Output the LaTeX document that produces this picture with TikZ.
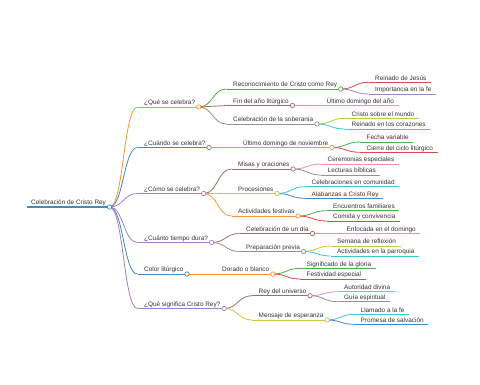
\documentclass[tikz,border=0pt]{standalone}
\usepackage{fontspec}
\setmainfont{Liberation Sans}
\usetikzlibrary{calc}
\definecolor{cA}{HTML}{1F77B4}
\definecolor{cB}{HTML}{FF7F0E}
\definecolor{cC}{HTML}{2CA02C}
\definecolor{cD}{HTML}{D62728}
\definecolor{cE}{HTML}{9467BD}
\definecolor{cF}{HTML}{8C564B}
\definecolor{cG}{HTML}{E377C2}
\definecolor{cH}{HTML}{7F7F7F}
\definecolor{cI}{HTML}{BCBD22}
\definecolor{cJ}{HTML}{17BECF}
\definecolor{txtc}{HTML}{333333}
\tikzset{
  txt/.style={inner sep=0pt, anchor=base west, text=txtc, font=\fontsize{6.4}{7.5}\selectfont},
  ln/.style={line width=0.8pt},
  rootln/.style={line width=1.3pt},
  dot/.style={line width=0.7pt}
}
% name, text x, line y, text
\newcommand\mnode[4]{%
  \node[txt] (#1) at (#2,#3-2.2) {#4};
  \coordinate (#1-s) at (#2-6.5,#3);
  \coordinate (#1-e) at ($(#1.base east)+(3.5,2.2)$);
}
\newcommand\mleaf[4]{%
  \node[txt] (#1) at (#2,#3-2.2) {#4};
  \coordinate (#1-s) at (#2-6.5,#3);
  \coordinate (#1-e) at ($(#1.base east)+(4.5,2.2)$);
}
% from, to, colour
\newcommand\mlink[3]{%
  \draw[ln,draw=#3!85!white] let \p1=(#1-e), \p2=(#2-s) in (\p1) .. controls ({(\x1+\x2)/2},\y1) and ({(\x1+\x2)/2},\y2) .. (\p2);
  \draw[ln,draw=#3!85!white] (#2-s) -- (#2-e);
}
\newcommand\mdot[2]{\draw[dot,draw=#2!85!white,fill=white] (#1-e) circle (2.2pt);}
\begin{document}
\begin{tikzpicture}[x=1pt,y=-1pt]
\useasboundingbox[fill=white] (0,0) rectangle (480,384);
% root
\node[txt] (root) at (31,207-2.2) {Celebración de Cristo Rey};
\coordinate (root-s) at (27,207);
\coordinate (root-e) at ($(root.base east)+(3.5,2.2)$);
% level 1
\mnode{qa}{144}{107}{¿Qué se celebra?}
\mnode{qb}{144}{147.5}{¿Cuándo se celebra?}
\mnode{qc}{144}{193.5}{¿Cómo se celebra?}
\mnode{qd}{144}{242.5}{¿Cuánto tiempo dura?}
\mnode{qe}{144}{274}{Color litúrgico}
\mnode{qf}{144}{308.5}{¿Qué significa Cristo Rey?}
% level 2
\mnode{ra}{233}{89}{Reconocimiento de Cristo como Rey}
\mnode{rb}{233}{105.5}{Fin del año litúrgico}
\mnode{rc}{233}{124}{Celebración de la soberanía}
\mnode{na}{243}{147.5}{Último domingo de noviembre}
\mnode{ma}{238}{169}{Misas y oraciones}
\mnode{mb}{238}{193.5}{Procesiones}
\mnode{mc}{238}{216}{Actividades festivas}
\mnode{ta}{246}{233.5}{Celebración de un día}
\mnode{tb}{246}{251.5}{Preparación previa}
\mnode{da}{222}{274}{Dorado o blanco}
\mnode{sa}{258.5}{295.7}{Rey del universo}
\mnode{sb}{258.5}{320}{Mensaje de esperanza}
% level 3
\mleaf{la}{375}{82.3}{Reinado de Jesús}
\mleaf{lb}{375}{94}{Importancia en la fe}
\mleaf{lc}{326.5}{105.5}{Último domingo del año}
\mleaf{ld}{351.5}{118.3}{Cristo sobre el mundo}
\mleaf{le}{351.5}{129}{Reinado en los corazones}
\mleaf{lf}{366.5}{142}{Fecha variable}
\mleaf{lg}{366.5}{152.3}{Cierre del ciclo litúrgico}
\mleaf{lh}{327.5}{164}{Ceremonias especiales}
\mleaf{li}{327.5}{175}{Lecturas bíblicas}
\mleaf{lj}{311.5}{186.7}{Celebraciones en comunidad}
\mleaf{lk}{311.5}{198.3}{Alabanzas a Cristo Rey}
\mleaf{ll}{333}{210.7}{Encuentros familiares}
\mleaf{lm}{333}{221}{Comida y convivencia}
\mleaf{ln}{346.5}{233.5}{Enfocada en el domingo}
\mleaf{lo}{337}{246}{Semana de reflexión}
\mleaf{lp}{337}{256}{Actividades en la parroquia}
\mleaf{lq}{306.5}{268.3}{Significado de la gloria}
\mleaf{lr}{306.5}{279}{Festividad especial}
\mleaf{ls}{344}{291.7}{Autoridad divina}
\mleaf{lt}{344}{301.7}{Guía espiritual}
\mleaf{lu}{360.5}{314.3}{Llamado a la fe}
\mleaf{lv}{360.5}{324.3}{Promesa de salvación}
% links and underlines
\mlink{root}{qa}{cB}
\mlink{root}{qb}{cA}
\mlink{root}{qc}{cE}
\mlink{root}{qd}{cE}
\mlink{root}{qe}{cA}
\mlink{root}{qf}{cE}
\draw[rootln,draw=cA!85!white] (root-s) -- (root-e);
\mlink{qa}{ra}{cC}
\mlink{qa}{rb}{cF}
\mlink{qa}{rc}{cH}
\mlink{qb}{na}{cB}
\mlink{qc}{ma}{cF}
\mlink{qc}{mb}{cI}
\mlink{qc}{mc}{cB}
\mlink{qd}{ta}{cF}
\mlink{qd}{tb}{cH}
\mlink{qe}{da}{cB}
\mlink{qf}{sa}{cF}
\mlink{qf}{sb}{cI}
\mlink{ra}{la}{cD}
\mlink{ra}{lb}{cE}
\mlink{rb}{lc}{cG}
\mlink{rc}{ld}{cI}
\mlink{rc}{le}{cJ}
\mlink{na}{lf}{cC}
\mlink{na}{lg}{cD}
\mlink{ma}{lh}{cG}
\mlink{ma}{li}{cH}
\mlink{mb}{lj}{cJ}
\mlink{mb}{lk}{cA}
\mlink{mc}{ll}{cC}
\mlink{mc}{lm}{cD}
\mlink{ta}{ln}{cG}
\mlink{tb}{lo}{cI}
\mlink{tb}{lp}{cJ}
\mlink{da}{lq}{cC}
\mlink{da}{lr}{cD}
\mlink{sa}{ls}{cG}
\mlink{sa}{lt}{cH}
\mlink{sb}{lu}{cJ}
\mlink{sb}{lv}{cA}
% circles
\mdot{root}{cA}
\mdot{qa}{cB}
\mdot{qb}{cA}
\mdot{qc}{cE}
\mdot{qd}{cE}
\mdot{qe}{cA}
\mdot{qf}{cE}
\mdot{ra}{cC}
\mdot{rb}{cF}
\mdot{rc}{cH}
\mdot{na}{cB}
\mdot{ma}{cF}
\mdot{mb}{cI}
\mdot{mc}{cB}
\mdot{ta}{cF}
\mdot{tb}{cH}
\mdot{da}{cB}
\mdot{sa}{cF}
\mdot{sb}{cI}
\end{tikzpicture}
\end{document}
